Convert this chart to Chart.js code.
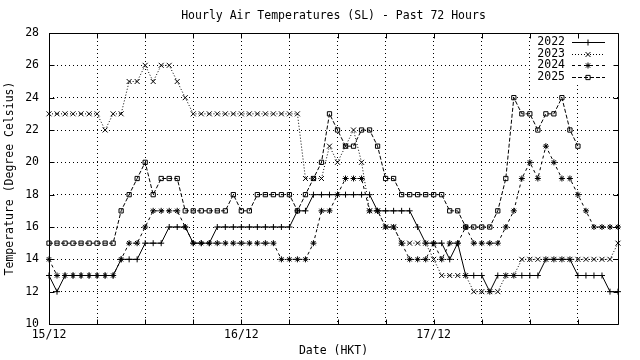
<!DOCTYPE html>
<html>
<head>
<meta charset="utf-8">
<script src="https://cdn.jsdelivr.net/npm/chart.js@4"></script>
<style>
  html, body { margin: 0; padding: 0; background: #fff; }
</style>
</head>
<body>
<canvas id="temp-chart" width="640" height="360"></canvas>
<script>
const days = ["15/12", "16/12", "17/12"];
const years = ["2022", "2023", "2024", "2025"];

// hourly readings, one per hour over the 72 hours
const t2022 = [13, 12, 13, 13, 13, 13, 13, 13, 13, 14, 14, 14, 15, 15, 15, 16, 16, 16,
  15, 15, 15, 16, 16, 16, 16, 16, 16, 16, 16, 16, 16, 17, 17, 18, 18, 18, 18, 18, 18,
  18, 18, 17, 17, 17, 17, 17, 16, 15, 15, 15, 14, 15, 13, 13, 13, 12, 13, 13, 13, 13,
  13, 13, 14, 14, 14, 14, 13, 13, 13, 13, 12, 12];
const t2023 = [23, 23, 23, 23, 23, 23, 23, 22, 23, 23, 25, 25, 26, 25, 26, 26, 25, 24,
  23, 23, 23, 23, 23, 23, 23, 23, 23, 23, 23, 23, 23, 23, 19, 19, 19, 21, 20, 21, 22,
  20, 17, 17, 16, 16, 15, 15, 15, 15, 14, 13, 13, 13, 13, 12, 12, 12, 12, 13, 13, 14,
  14, 14, 14, 14, 14, 14, 14, 14, 14, 14, 14, 15];
const t2024 = [14, 13, 13, 13, 13, 13, 13, 13, 13, 14, 15, 15, 16, 17, 17, 17, 17, 16,
  15, 15, 15, 15, 15, 15, 15, 15, 15, 15, 15, 14, 14, 14, 14, 15, 17, 17, 18, 19, 19,
  19, 17, 17, 16, 16, 15, 14, 14, 14, 15, 14, 15, 15, 16, 15, 15, 15, 15, 16, 17, 19,
  20, 19, 21, 20, 19, 19, 18, 17, 16, 16, 16, 16];
const t2025 = [15, 15, 15, 15, 15, 15, 15, 15, 15, 17, 18, 19, 20, 18, 19, 19, 19, 17,
  17, 17, 17, 17, 17, 18, 17, 17, 18, 18, 18, 18, 18, 17, 18, 19, 20, 23, 22, 21, 21,
  22, 22, 21, 19, 19, 18, 18, 18, 18, 18, 18, 17, 17, 16, 16, 16, 16, 17, 19, 24, 23,
  23, 22, 23, 23, 24, 22, 21, null, null, null, null, null];

const hours = [];
days.forEach((d) => {
  for (let h = 0; h < 24; h++) hours.push(d + " " + String(h).padStart(2, "0") + ":00");
});

Chart.defaults.font.family = "'DejaVu Sans Mono', monospace";
Chart.defaults.font.size = 11.5;
Chart.defaults.color = "#000";

// gnuplot style key, top right inside the plot
const keyPlugin = {
  id: "key",
  afterDatasetsDraw(chart) {
    const { ctx, chartArea: a } = chart;
    ctx.save();
    ctx.fillStyle = "#fff";
    ctx.fillRect(a.right - 86, a.top + 1, 83, 48);
    ctx.font = "11.5px 'DejaVu Sans Mono', monospace";
    ctx.textAlign = "right";
    ctx.textBaseline = "middle";
    chart.data.datasets.forEach((ds, i) => {
      const yy = Math.round(a.top + 9 + i * 11.7) + 0.5;
      ctx.fillStyle = "#000";
      ctx.fillText(ds.label, a.right - 53, yy);
      ctx.strokeStyle = "#000";
      ctx.lineWidth = 1;
      ctx.setLineDash(ds.borderDash || []);
      ctx.beginPath();
      ctx.moveTo(a.right - 46, yy);
      ctx.lineTo(a.right - 13, yy);
      ctx.stroke();
      ctx.setLineDash([]);
      ctx.fillStyle = "rgba(0,0,0,0)";
      Chart.helpers.drawPoint(ctx, {
        pointStyle: ds.pointStyle,
        radius: ds.pointRadius,
        rotation: 0,
        borderWidth: 1,
      }, a.right - 30, yy);
    });
    ctx.restore();
  },
};

// frame with inward ticks on all four sides
const framePlugin = {
  id: "frame",
  afterDraw(chart) {
    const { ctx, chartArea: a, scales: { x, y } } = chart;
    const l = Math.round(a.left) + 0.5;
    const r = Math.round(a.right) + 0.5;
    const t = Math.round(a.top) + 0.5;
    const b = Math.round(a.bottom) + 0.5;
    ctx.save();
    ctx.strokeStyle = "#000";
    ctx.lineWidth = 1;
    ctx.beginPath();
    y.ticks.forEach((tk) => {
      const py = Math.round(y.getPixelForValue(tk.value)) + 0.5;
      ctx.moveTo(l, py); ctx.lineTo(l + 5, py);
      ctx.moveTo(r, py); ctx.lineTo(r - 5, py);
    });
    x.ticks.forEach((tk, i) => {
      if (i % 6) return;
      const px = Math.round(x.getPixelForTick(i)) + 0.5;
      ctx.moveTo(px, t); ctx.lineTo(px, t + 5);
      ctx.moveTo(px, b); ctx.lineTo(px, b - 5);
    });
    ctx.rect(l, t, r - l, b - t);
    ctx.stroke();
    ctx.restore();
  },
};

const series = [
  { data: t2022, style: "cross", radius: 3, dash: [] },
  { data: t2023, style: "crossRot", radius: 3.5, dash: [1, 2] },
  { data: t2024, style: "star", radius: 3, dash: [3, 3] },
  { data: t2025, style: "rect", radius: 3, dash: [4, 2] },
];

new Chart(document.getElementById("temp-chart"), {
  type: "line",
  data: {
    labels: hours,
    datasets: series.map((s, i) => ({
      label: years[i],
      data: s.data,
      borderColor: "#000",
      borderWidth: 1,
      borderDash: s.dash,
      tension: 0,
      pointStyle: s.style,
      pointRadius: s.radius,
      pointBorderColor: "#000",
      pointBorderWidth: 1,
      pointBackgroundColor: "rgba(0,0,0,0)",
      clip: false,
    })),
  },
  options: {
    responsive: false,
    animation: false,
    events: [],
    layout: { padding: { left: 0, right: 22, top: 0, bottom: 0 } },
    plugins: {
      legend: { display: false },
      tooltip: { enabled: false },
      title: {
        display: true,
        text: "Hourly Air Temperatures (SL) - Past 72 Hours",
        fullSize: false,
        font: { size: 11.5, weight: "normal" },
        padding: { top: 9, bottom: 10.2 },
      },
    },
    scales: {
      x: {
        afterFit: (s) => { s.height = 36; },
        grid: {
          color: (c) => (c.index % 6 === 0 ? "#000" : "rgba(0,0,0,0)"),
          drawTicks: false,
        },
        border: { display: false, dash: [1, 3] },
        ticks: {
          autoSkip: false,
          maxRotation: 0,
          padding: 4,
          callback: (v, i) => (i % 24 === 0 ? days[i / 24] : ""),
        },
        title: { display: true, text: "Date (HKT)", padding: { top: 0, bottom: 1.6 } },
      },
      y: {
        min: 10,
        max: 28,
        afterFit: (s) => { s.width = 49; },
        grid: { color: "#000", drawTicks: false },
        border: { display: false, dash: [1, 3] },
        ticks: { stepSize: 2, padding: 10 },
        title: { display: true, text: "Temperature (Degree Celsius)", padding: { top: 3, bottom: 0 } },
      },
    },
  },
  plugins: [keyPlugin, framePlugin],
});
</script>
</body>
</html>
